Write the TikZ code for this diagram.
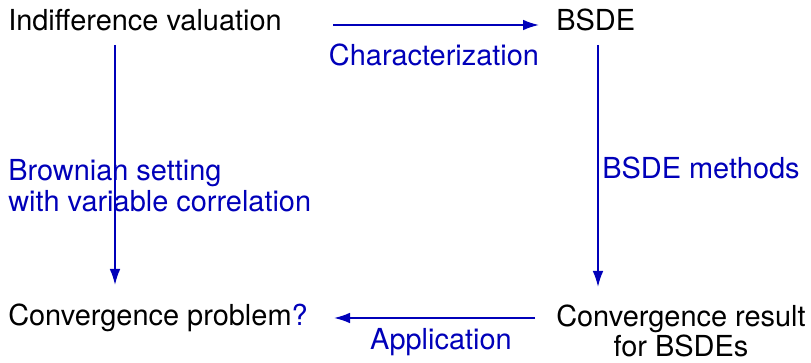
\documentclass[tikz,border=0pt]{standalone}
\usepackage{fontspec}
\setmainfont{TeX Gyre Heros}
\usepackage{tikz}
\usetikzlibrary{arrows.meta}
\definecolor{linkblue}{RGB}{0,0,185}

\begin{document}
\begin{tikzpicture}[x=0.75pt,y=0.75pt,yscale=-1,xscale=1,
    font=\fontsize{21.7}{23}\selectfont,
    txt/.style={anchor=west,inner sep=0pt},
    lbl/.style={inner sep=0pt,text=linkblue},
    arr/.style={draw=linkblue,line width=1.3pt,-{Latex[length=12pt,width=8pt]}}]
        \useasboundingbox (0,0) rectangle (811,363);

        % Text Node
        \node[txt] (indiff) at (8,20) {Indifference valuation};
        % Text Node
        \node[txt] (bsde) at (556,20) {BSDE};
        % Text Node
        \node[txt] (convprob) at (8,318) {Convergence problem\textcolor{linkblue}{?}};
        % Text Node
        \node[txt,align=center] (convres) at (556,331) {Convergence result\\for BSDEs};

        % Arrow ends
        \coordinate (topA) at (333,25);
        \coordinate (topB) at (539,25);
        \coordinate (leftA) at (115,45);
        \coordinate (leftB) at (115,285);
        \coordinate (rightA) at (598,45);
        \coordinate (rightB) at (598,287);
        \coordinate (botA) at (535,318);
        \coordinate (botB) at (334,318);

        % Arrows
        \draw[arr] (topA) -- (topB);
        \draw[arr] (leftA) -- (leftB);
        \draw[arr] (rightA) -- (rightB);
        \draw[arr] (botA) -- (botB);

        % Labels
        \node[lbl] (charlbl) at (434,55) {Characterization};
        \node[lbl,anchor=west,align=left] (brownlbl) at (8,186) {Brownian setting\\with variable correlation};
        \node[lbl,anchor=west] (methlbl) at (602,168) {BSDE methods};
        \node[lbl] (applbl) at (441,342) {Application};
\end{tikzpicture}
\end{document}
